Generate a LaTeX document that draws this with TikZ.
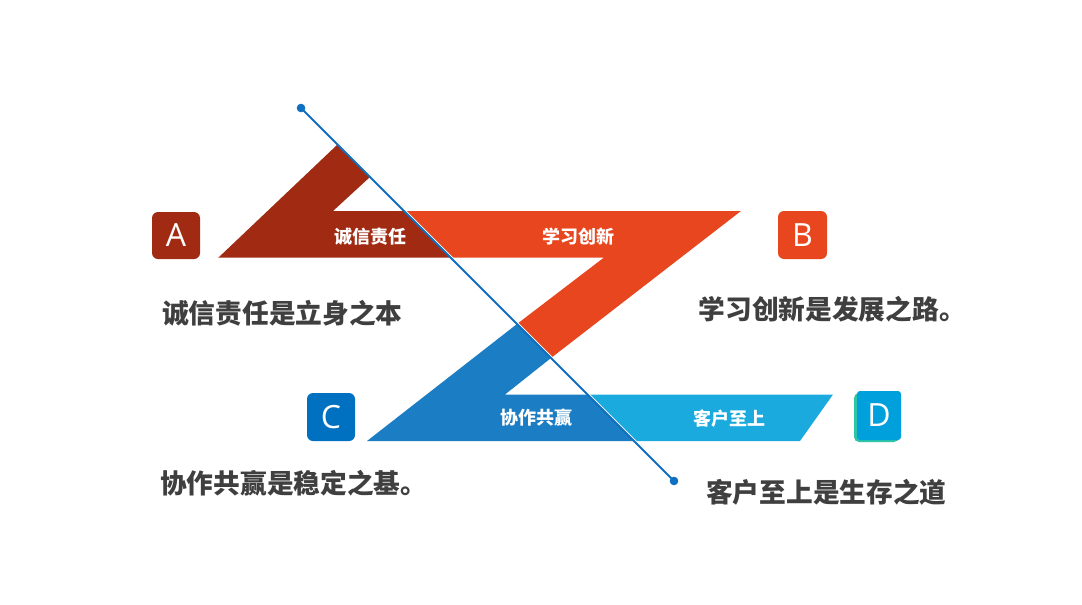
\documentclass[tikz,border=0pt]{standalone}
\usepackage{fontspec}
\newfontfamily\cjk{Noto Sans CJK SC}
\newfontfamily\latinf{Open Sans}
\definecolor{cRed}{HTML}{A02B12}
\definecolor{cOrange}{HTML}{E8461F}
\definecolor{cBlue}{HTML}{1B7DC4}
\definecolor{cLight}{HTML}{1BAADD}
\definecolor{cLine}{HTML}{0F6FC0}
\definecolor{cText}{HTML}{3F3F3F}
\definecolor{cCbox}{HTML}{0070C0}
\definecolor{cDbox}{HTML}{00A0DC}
\definecolor{cTeal}{HTML}{2EC4A6}
\begin{document}
\begin{tikzpicture}[x=1pt,y=-1pt,
  barlabel/.style={text=white,font=\cjk\bfseries\fontsize{18}{18}\selectfont,inner sep=0pt},
  desc/.style={text=cText,font=\cjk\bfseries\fontsize{26.7}{26.7}\selectfont,inner sep=0pt,anchor=west},
  letter/.style={text=white,font=\latinf\fontsize{32}{32}\selectfont,inner sep=0pt},
  endpt/.style={circle,inner sep=0pt,minimum size=8pt}]
\useasboundingbox (0,0) rectangle (1082,605);
\fill[white] (0,0) rectangle (1082,605);
% Z shape pieces
\fill[cRed] (218,258) -- (337,145) -- (370,177) -- (333,211) -- (404,211) -- (450.5,257.5) -- (218,257.5) -- cycle;
\fill[cOrange] (404,211) -- (741,211) -- (551,358) -- (517,324) -- (604,257.5) -- (450.5,257.5) -- cycle;
\fill[cBlue] (517,324) -- (551,358) -- (505,394.5) -- (587.5,394.5) -- (634,441) -- (367,441) -- cycle;
\fill[cLight] (587.5,394.5) -- (833,394.5) -- (800,441) -- (634,441) -- cycle;
% letter boxes
\fill[cRed,rounded corners=6pt] (152,212) rectangle (200,259);
\node[letter] (la) at (176,235.5) {A};
\fill[cOrange,rounded corners=6pt] (778,211) rectangle (827,259);
\node[letter] (lb) at (802.5,235) {B};
\fill[cCbox,rounded corners=6pt] (307,393) rectangle (355,441);
\node[letter] (lc) at (331,417) {C};
\fill[cTeal,rounded corners=5pt] (854,393) rectangle (899,442);
\fill[cDbox,rounded corners=3pt] (857,391) rectangle (901,440);
\node[letter] (ld) at (879,415.5) {D};
% bar labels
\node[barlabel] (b1) at (370,236.5) {诚信责任};
\node[barlabel] (b2) at (578,236.5) {学习创新};
\node[barlabel] (b3) at (536.5,418) {协作共赢};
\node[barlabel] (b4) at (729.5,419) {客户至上};
% descriptions
\node[desc] (d1) at (162,313) {诚信责任是立身之本};
\node[desc] (d2) at (698.5,309.5) {学习创新是发展之路。};
\node[desc] (d3) at (160,483) {协作共赢是稳定之基。};
\node[desc] (d4) at (706,492.5) {客户至上是生存之道};
% diagonal line
\node[endpt] (p1) at (301,108) {};
\node[endpt] (p2) at (674,481) {};
\draw[white,line width=1.6pt,transform canvas={xshift=1.6pt}] (p1.center) -- (p2.center);
\draw[cLine,line width=2pt] (p1.center) -- (p2.center);
\fill[cLine] (p1.center) circle[radius=4.3pt];
\fill[cLine] (p2.center) circle[radius=4.3pt];
\end{tikzpicture}
\end{document}
